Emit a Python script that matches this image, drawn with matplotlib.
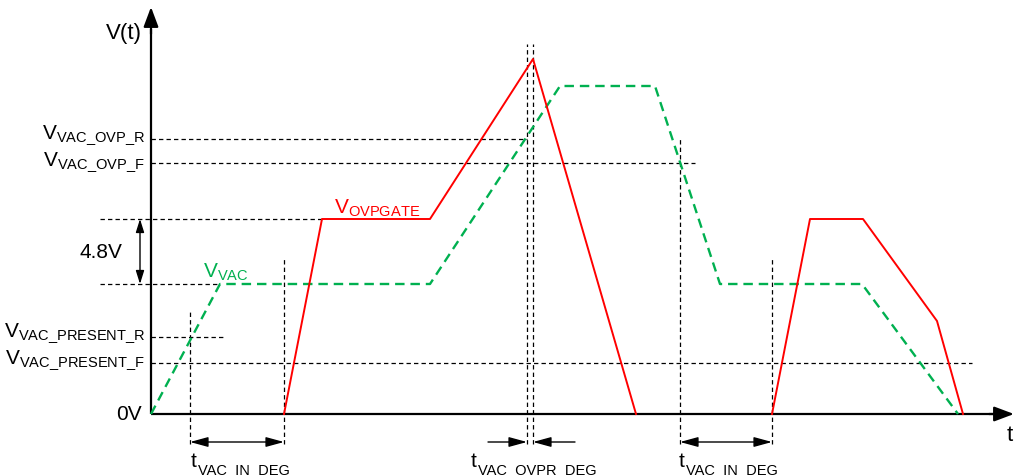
import matplotlib
matplotlib.use("Agg")
import matplotlib.pyplot as plt

plt.rcParams["font.family"] = ["Liberation Sans", "DejaVu Sans"]
plt.rcParams["mathtext.fontset"] = "custom"
plt.rcParams["mathtext.rm"] = "Liberation Sans"
plt.rcParams["mathtext.it"] = "Liberation Sans"

RED = "#FF0000"
GREEN = "#00B050"

# voltage levels (arbitrary units, 0V = 0)
V_OVP_R = 275
V_OVP_F = 251
V_GATE = 195
V_VAC = 130
V_PRES_R = 77
V_PRES_F = 51

# V_OVPGATE trace (two pulses)
gate1_t = [133, 171, 279, 382, 485]
gate1_v = [0, V_GATE, V_GATE, 355, 0]
gate2_t = [621, 659, 712, 786, 812]
gate2_v = [0, V_GATE, V_GATE, 93, 0]

# V_VAC trace
vac_t = [0, 69, 279, 409, 504, 569, 711, 807]
vac_v = [0, V_VAC, V_VAC, 328, 328, V_VAC, V_VAC, 0]

# reference lines: (level, t_start, t_end)
h_lines = [(V_OVP_R, 0, 376), (V_OVP_F, 0, 544), (V_GATE, -51, 171),
           (V_VAC, -51, 69), (V_PRES_R, 0, 73), (V_PRES_F, 0, 821)]
# timing markers: (t, v_top)
v_lines = [(39, 105), (133, 157), (376, 370), (382, 370), (529, 275), (621, 157)]

left_labels = [("VAC\\_OVP\\_R", V_OVP_R + 5), ("VAC\\_OVP\\_F", V_OVP_F + 2),
               ("VAC\\_PRESENT\\_R", V_PRES_R + 5), ("VAC\\_PRESENT\\_F", V_PRES_F + 4)]
time_labels = [(40, "VAC  IN  DEG"), (320, "VAC  OVPR  DEG"), (528, "VAC  IN  DEG")]

fig = plt.figure(figsize=(10.16, 4.77), dpi=100)
ax = fig.add_axes([0, 0, 1, 1])
ax.set_xlim(-151, 865)
ax.set_ylim(-62, 415)
ax.axis("off")

# axes with arrows
ax.plot([0, 0], [0, 385], color="black", lw=1.6, solid_capstyle="butt")
ax.plot([0, 843], [0, 0], color="black", lw=1.6, solid_capstyle="butt")
ax.annotate("", xy=(0, 407), xytext=(0, 380),
            arrowprops=dict(arrowstyle="-|>,head_length=1.2,head_width=0.45",
                            color="black", lw=1.6, shrinkA=0, shrinkB=0))
ax.annotate("", xy=(863, 0), xytext=(838, 0),
            arrowprops=dict(arrowstyle="-|>,head_length=1.2,head_width=0.45",
                            color="black", lw=1.6, shrinkA=0, shrinkB=0))

dash = dict(color="black", lw=0.9, linestyle=(0, (3.5, 2.5)))
for lvl, t0, t1 in h_lines:
    ax.plot([t0, t1], [lvl, lvl], **dash)
for t, top in v_lines:
    ax.plot([t, t], [-30, top], **dash)

ax.plot(vac_t, vac_v, color=GREEN, lw=1.7, linestyle=(0, (4, 2.5)), zorder=3)
ax.plot(gate1_t, gate1_v, color=RED, lw=1.4, zorder=4)
ax.plot(gate2_t, gate2_v, color=RED, lw=1.4, zorder=4)

fs = 15
ax.text(-9, 382, "V(t)", fontsize=16, ha="right", va="center")
ax.text(859, -21, "t", fontsize=16, ha="center", va="center")
ax.text(-9, 0, "0V", fontsize=fs, ha="right", va="center")
ax.text(-29, (V_GATE + V_VAC) / 2, "4.8V", fontsize=fs, ha="right", va="center")
for sub, y in left_labels:
    ax.text(-6, y, r"$\mathregular{V_{%s}}$" % sub, fontsize=fs, ha="right", va="center")

ax.text(183, 207, r"$\mathregular{V_{OVPGATE}}$", fontsize=fs, color=RED, ha="left", va="center")
ax.text(52, 143, r"$\mathregular{V_{VAC}}$", fontsize=fs, color=GREEN, ha="left", va="center")

# 4.8V dimension arrow
ax.annotate("", xy=(-11, V_GATE), xytext=(-11, V_VAC),
            arrowprops=dict(arrowstyle="<|-|>,head_length=0.8,head_width=0.25",
                            color="black", lw=1.0, shrinkA=0, shrinkB=0))

# deglitch arrows
arr = dict(arrowstyle="<|-|>,head_length=1.1,head_width=0.3", color="black", lw=1.0,
           shrinkA=0, shrinkB=0)
one = dict(arrowstyle="-|>,head_length=1.1,head_width=0.3", color="black", lw=1.0,
           shrinkA=0, shrinkB=0)
ax.annotate("", xy=(39, -28), xytext=(133, -28), arrowprops=arr)
ax.annotate("", xy=(529, -28), xytext=(621, -28), arrowprops=arr)
ax.annotate("", xy=(376, -28), xytext=(337, -28), arrowprops=one)
ax.annotate("", xy=(382, -28), xytext=(424, -28), arrowprops=one)

for t0, sub in time_labels:
    main = ax.text(t0, -52, "t", fontsize=fs, ha="left", va="baseline")
    ax.annotate(sub, xy=(1, 0), xycoords=main, xytext=(0.5, -3),
                textcoords="offset points", fontsize=10.5, ha="left", va="baseline")

fig.savefig("out.png", dpi=100, facecolor="white")
